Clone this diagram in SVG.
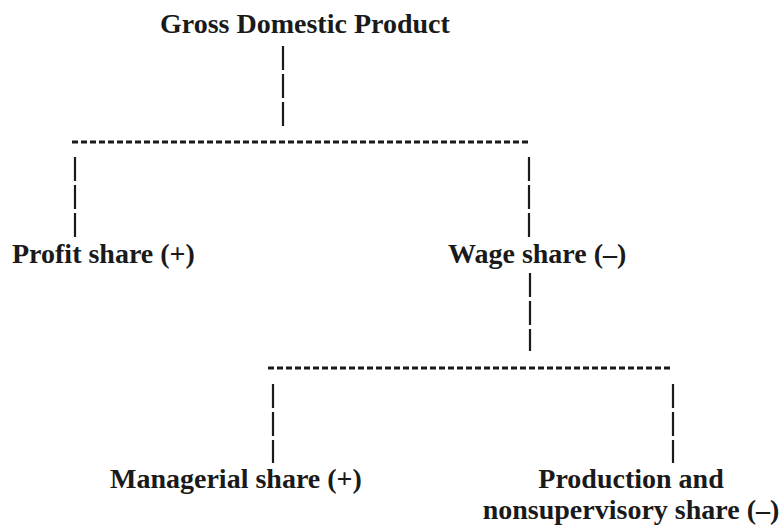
<svg xmlns="http://www.w3.org/2000/svg" width="782" height="525" viewBox="0 0 782 525">
<style>
.t{font-family:"Liberation Serif","Times New Roman",serif;font-weight:bold;font-size:28px;fill:#1a1a1a}
.v{stroke:#1a1a1a;stroke-width:2.2;stroke-dasharray:24 4;fill:none}
.h{stroke:#1a1a1a;stroke-width:3;stroke-dasharray:6 3;fill:none}
</style>
<rect width="782" height="525" fill="#fff"/>
<g id="connectors">
<line class="v" x1="283" y1="46" x2="283" y2="126"/>
<line class="h" x1="72" y1="142" x2="530" y2="142"/>
<line class="v" x1="75" y1="157" x2="75" y2="238"/>
<line class="v" x1="529" y1="157" x2="529" y2="238"/>
<line class="v" x1="530" y1="273" x2="530" y2="351"/>
<line class="h" x1="268" y1="368" x2="672" y2="368"/>
<line class="v" x1="273" y1="384" x2="273" y2="463"/>
<line class="v" x1="673" y1="384" x2="673" y2="463"/>
</g>
<g id="gdp"><text class="t" x="160" y="33">Gross Domestic Product</text></g>
<g id="profit"><text class="t" x="12" y="263">Profit share (+)</text></g>
<g id="wage"><text class="t" x="448" y="263">Wage share (–)</text></g>
<g id="managerial"><text class="t" x="110" y="488">Managerial share (+)</text></g>
<g id="production"><text class="t" x="631" y="488" text-anchor="middle">Production and</text><text class="t" x="631" y="519" text-anchor="middle">nonsupervisory share (–)</text></g>
</svg>
